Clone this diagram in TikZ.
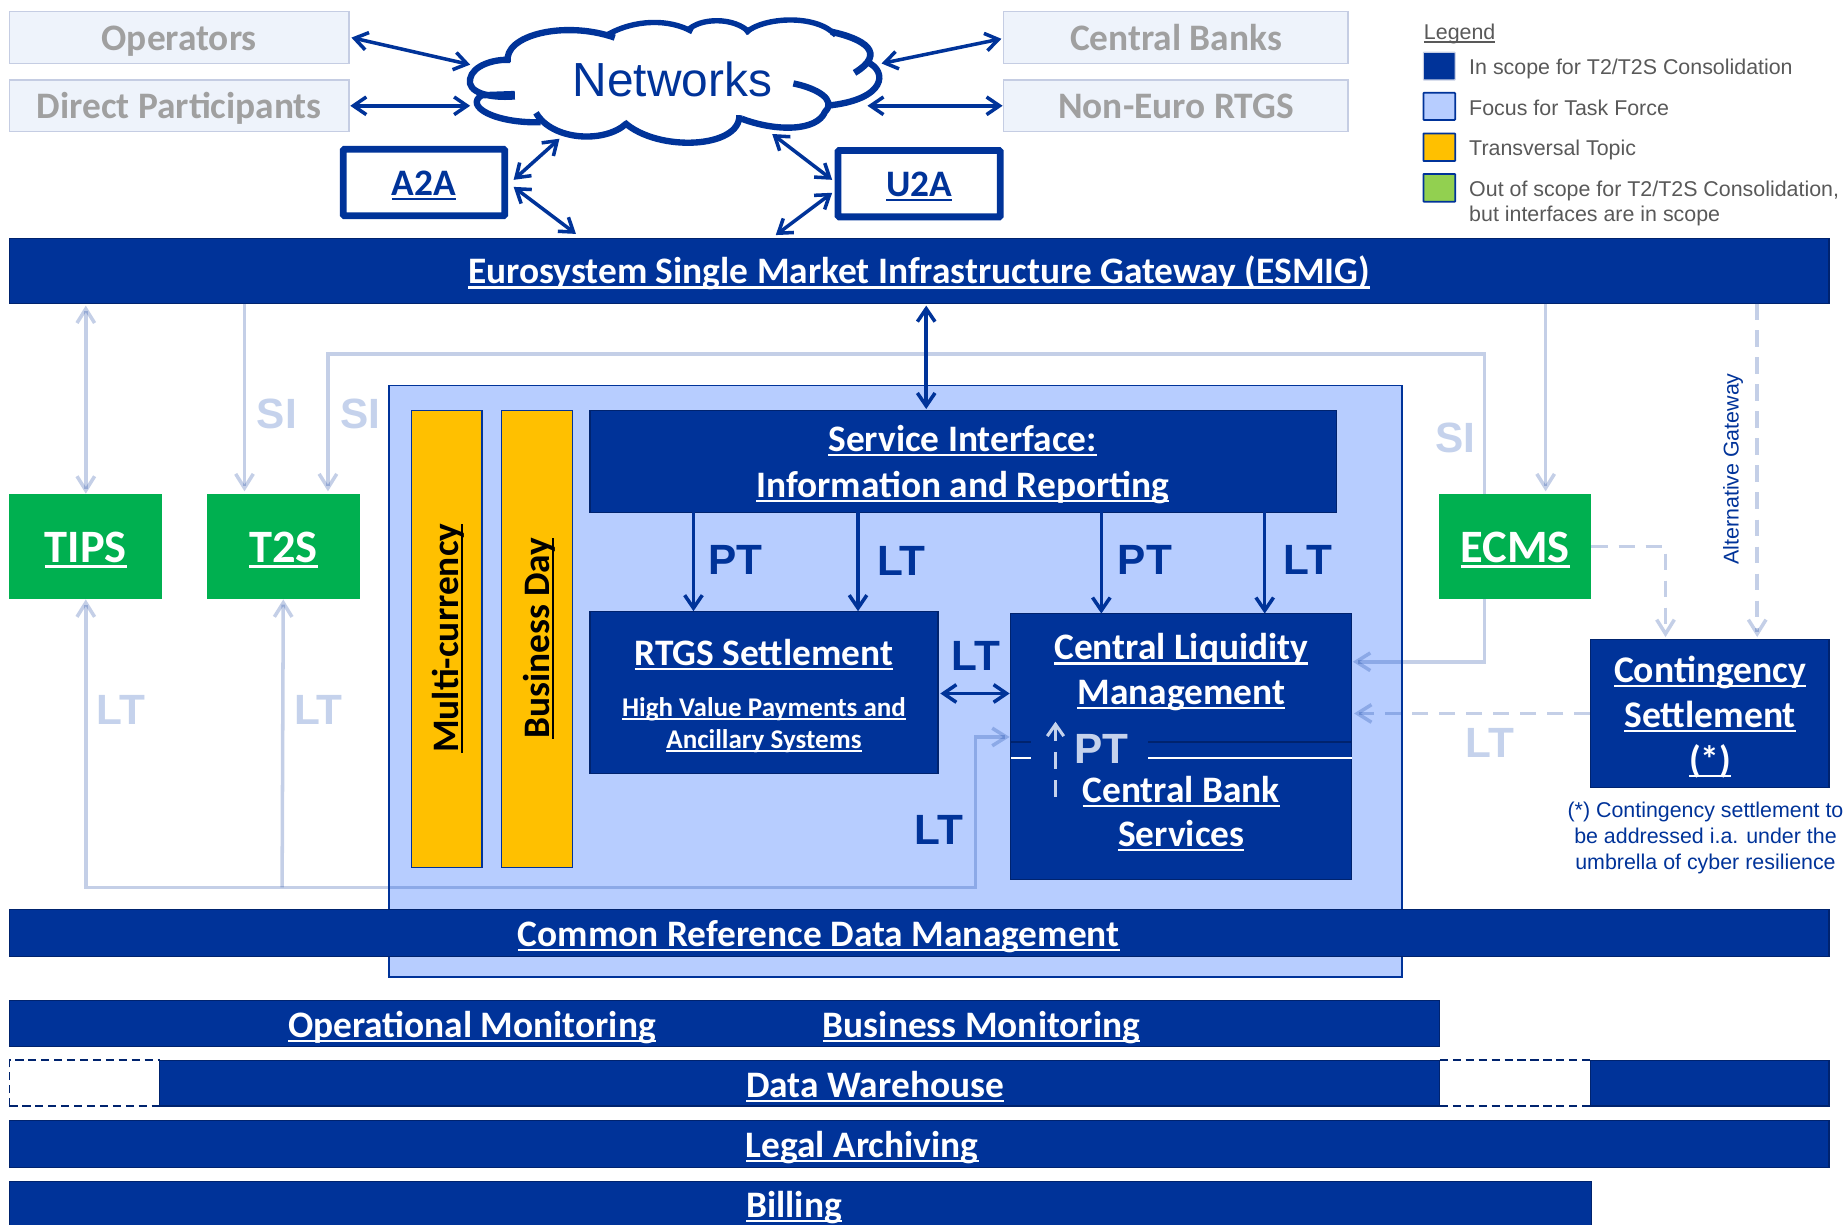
\documentclass[tikz,border=0pt]{standalone}
\usepackage{fontspec}
\setmainfont{Carlito}
\newfontfamily\arialf{Liberation Sans}
\usetikzlibrary{arrows.meta,calc}
\definecolor{ecb}{HTML}{003399}
\definecolor{ecbdark}{HTML}{00236E}
\definecolor{focus}{HTML}{B7CDFF}
\definecolor{palebox}{HTML}{EEF3FB}
\definecolor{paleline}{HTML}{C5CDE3}
\definecolor{paletext}{HTML}{C5D2EC}
\definecolor{greyt}{HTML}{A0A0A0}
\definecolor{legt}{HTML}{595959}
\definecolor{amberc}{HTML}{FFC000}
\definecolor{greenb}{HTML}{00B050}
\definecolor{greenl}{HTML}{92D050}
\newcommand\fs[2]{\fontsize{#1}{#2}\selectfont}
\newcommand\ulx[1]{\setbox0=\hbox{#1}\leavevmode\rlap{\vrule width\wd0 height -.065em depth .125em}\box0}
% \rbox[style]{name}{x1}{y1}{x2}{y2}{text}
\newcommand\rbox[7][]{\node[#1,minimum width={(#5-#3)*1pt},minimum height={(#6-#4)*1pt}] (#2) at ({(#3+#5)/2},{(#4+#6)/2}) {#7};}
\tikzset{
  cell/.style={inner sep=0pt,outer sep=0pt,align=center},
  oneline/.style={text height=22pt,text depth=0pt},
  paleb/.style={cell,oneline,fill=palebox,draw=paleline,line width=1.2pt,text=greyt,font=\bfseries\fs{31.8}{36}},
  frameb/.style={cell,oneline,draw=ecb,fill=white,line width=5.8pt,rounded corners=1pt,text=ecb,font=\bfseries\fs{31.8}{36}},
  bar/.style={cell,oneline,fill=ecb,draw=ecbdark,line width=1pt,text=white,font=\bfseries\fs{31.8}{36}},
  darkb/.style={cell,fill=ecb,draw=ecbdark,line width=1pt},
  boxtext/.style={cell,text=white,font=\bfseries\fs{31.8}{38.5}},
  greenbox/.style={cell,text height=27pt,text depth=0pt,fill=greenb,text=white,font=\bfseries\fs{39.5}{44}},
  amberbox/.style={cell,fill=amberc,draw=ecb,line width=1pt},
  bartext/.style={cell,text=white,font=\bfseries\fs{31.8}{36},anchor=base},
  amtext/.style={cell,text=black,font=\bfseries\fs{31.8}{36},rotate=90},
  tagdark/.style={cell,text=ecb,font=\arialf\bfseries\fs{36}{40}},
  tagpale/.style={cell,text=paletext,font=\arialf\bfseries\fs{36}{40}},
  leg/.style={cell,anchor=base west,align=left,text=legt,font=\arialf\fs{18.2}{21.3}},
  swatch/.style={cell,draw=ecb,line width=1.5pt,rounded corners=.5pt},
  link/.style={draw=ecb,line width=3pt},
  both/.style={link,{Straight Barb[length=11pt,width=15pt]}-{Straight Barb[length=11pt,width=15pt]}},
  onew/.style={link,-{Straight Barb[length=11pt,width=15pt]}},
  ghost/.style={draw=ecb,draw opacity=.23,line width=3pt,line join=miter},
  ghostone/.style={ghost,-{Straight Barb[length=12pt,width=15pt]}},
  ghostboth/.style={ghost,{Straight Barb[length=12pt,width=15pt]}-{Straight Barb[length=12pt,width=15pt]}},
  ghostdash/.style={ghostone,dash pattern=on 14pt off 9pt},
}
\begin{document}
\begin{tikzpicture}[x=1pt,y=-1pt]
\useasboundingbox (0,0) rectangle (1568,1042.2);
\fill[white] (0,0) rectangle (1568,1042.2);

% focus area
\rbox[cell,fill=focus,draw=ecb,line width=1.5pt]{focusarea}{331}{328}{1193}{831}{}

% top boxes
\rbox[paleb]{operators}{8}{10}{297}{54}{Operators}
\rbox[paleb]{direct}{8}{68}{297}{112}{Direct Participants}
\rbox[paleb]{central}{854}{10}{1147}{54}{Central Banks}
\rbox[paleb]{noneuro}{854}{68}{1147}{112}{Non-Euro RTGS}
\rbox[frameb]{atoa}{292}{127}{429.5}{183.5}{\ulx{A2A}}
\rbox[frameb]{utoa}{713}{128}{851}{184.5}{\ulx{U2A}}

% cloud
\fill[white] (437,84) .. controls (415,84) and (397,78) .. (400,67) .. controls (402,56) and (420,50) .. (432,53)
  .. controls (428,30) and (480,17) .. (522,31) .. controls (540,16) and (570,16) .. (587,25)
  .. controls (595,15) and (625,14) .. (637,27) .. controls (650,14) and (695,12) .. (711,29)
  .. controls (735,33) and (755,50) .. (739,54) .. controls (755,60) and (755,85) .. (703,90)
  .. controls (705,100) and (670,115) .. (631,100) .. controls (630,125) and (560,130) .. (531,106)
  .. controls (515,122) and (470,120) .. (457,97) .. controls (420,105) and (395,90) .. (410,80) -- cycle;
\draw[ecb,line width=5.4pt,line cap=butt]
  (438,82) .. controls (415,84) and (397,78) .. (400,67) .. controls (402,56) and (420,50) .. (434,51);
\draw[ecb,line width=5.4pt]
  (432,53) .. controls (428,30) and (480,17) .. (523,32);
\draw[ecb,line width=4.6pt]
  (516,30) .. controls (540,16) and (570,16) .. (589,27);
\draw[ecb,line width=4.6pt]
  (585,26) .. controls (595,15) and (625,14) .. (638,28);
\draw[ecb,line width=4.6pt]
  (634,28) .. controls (650,14) and (695,12) .. (711,30);
\draw[ecb,line width=5.6pt]
  (707,27) .. controls (735,33) and (755,45) .. (727,62);
\draw[ecb,line width=5.4pt]
  (738,53) .. controls (755,60) and (755,85) .. (703,90);
\draw[ecb,line width=5.4pt]
  (675,71) .. controls (695,75) and (712,85) .. (702,95) .. controls (695,112) and (660,112) .. (631,101);
\draw[ecb,line width=5.4pt]
  (629,98) .. controls (630,126) and (560,130) .. (531,104);
\draw[ecb,line width=5.4pt]
  (533,105) .. controls (515,122) and (470,120) .. (456,96);
\draw[ecb,line width=5.4pt]
  (460,104) .. controls (420,105) and (395,90) .. (410,81) -- (438,80);
\node[cell,text=ecb,font=\arialf\fs{40.7}{44}] (networks) at (572,67.5) {Networks};
\coordinate (netOp) at (400,55);
\coordinate (netDp) at (400,90);
\coordinate (netCb) at (750,54);
\coordinate (netNe) at (738,90);
\coordinate (netA) at (476,118);
\coordinate (netU) at (657,114);

% ESMIG
\rbox[bar]{esmig}{8}{203}{1556}{258}{\ulx{Eurosystem Single Market Infrastructure Gateway (ESMIG)}}

% amber columns
\rbox[amberbox]{multi}{350}{349}{410}{738}{}
\rbox[amberbox]{bday}{427}{349}{487}{738}{}
\node[amtext] (multit) at (381.5,543) {\ulx{Multi-currency}};
\node[amtext] (bdayt) at (458.5,543) {\ulx{Business Day}};

% inner boxes
\rbox[darkb]{service}{502}{349}{1137}{436}{}
\node[boxtext,font=\bfseries\fs{31.8}{39}] (servicet) at (819,395) {\ulx{Service Interface:}\\\ulx{Information and Reporting}};
\rbox[darkb]{rtgs}{502}{520}{798}{658}{}
\node[boxtext] (rtgsa) at (650,557) {\ulx{RTGS Settlement}};
\node[cell,text=white,font=\bfseries\fs{23}{27}] (rtgsb) at (650,617) {\ulx{High Value Payments and}\\\ulx{Ancillary Systems}};
\rbox[darkb]{clm}{860}{522}{1150}{748}{}
\draw[ecbdark,line width=1.5pt] (clm.west |- 0,631) -- (877,631) (977,631) -- (clm.east |- 0,631);
\draw[white,line width=1.5pt] (clm.west |- 0,645) -- (877,645) (977,645) -- (clm.east |- 0,645);
\node[boxtext,font=\bfseries\fs{31.8}{38}] (clma) at (1005,572) {\ulx{Central Liquidity}\\\ulx{Management}};
\node[boxtext,font=\bfseries\fs{31.8}{37.5}] (clmb) at (1005,692) {\ulx{Central Bank}\\\ulx{Services}};
\node[tagpale] (ptpale) at (937,637) {PT};
\coordinate (ptfoot) at (898,678);
\coordinate (pthead) at (898,614);
\draw[draw=paletext,line width=2.6pt,dash pattern=on 14pt off 10pt,-{Straight Barb[length=10pt,width=14pt]}] (ptfoot) -- (pthead);

% green boxes
\rbox[greenbox]{tips}{8}{420}{138}{510}{\ulx{TIPS}}
\rbox[greenbox]{ttos}{176}{420}{306}{510}{\ulx{T2S}}
\rbox[greenbox]{ecms}{1224}{420}{1354}{510}{\ulx{ECMS}}

% contingency
\rbox[darkb]{cont}{1353}{544}{1556}{670}{}
\node[boxtext,font=\bfseries\fs{32}{38.3}] (contt) at (1455,610) {\ulx{Contingency}\\\ulx{Settlement}\\\ulx{(*)}};
\node[cell,text=ecb,font=\arialf\fs{18.2}{22}] (contnote) at (1451,713) {(*) Contingency settlement to\\be addressed i.a. under the\\umbrella of cyber resilience};
\node[cell,text=ecb,font=\arialf\fs{18.2}{20},rotate=90] (altg) at (1474.5,399) {Alternative Gateway};

% lower bars
\rbox[bar]{crdm}{8}{774}{1556}{814}{}
\node[bartext] (crdmt) at (696.5,805.5) {\ulx{Common Reference Data Management}};
\rbox[bar]{opmon}{8}{851}{1225}{890}{}
\node[bartext] (opmont) at (401.5,882.5) {\ulx{Operational Monitoring}};
\node[bartext] (busmont) at (835,882.5) {\ulx{Business Monitoring}};
\draw[ecbdark,line width=1.5pt,dash pattern=on 7pt off 4pt]
  (8,941) -- (8,902) -- (136,902) (8,941) -- (136,941)
  (1225,902) -- (1353,902) (1225,941) -- (1353,941);
\rbox[bar]{dwh}{136}{902}{1225}{941}{}
\rbox[bar]{dwhr}{1353}{902}{1556}{941}{}
\node[bartext] (dwht) at (744.5,933.5) {\ulx{Data Warehouse}};
\rbox[bar]{legal}{8}{953.5}{1556}{993}{}
\node[bartext] (legalt) at (733.5,984.5) {\ulx{Legal Archiving}};
\rbox[bar]{billing}{8}{1005}{1354}{1045}{}
\node[bartext] (billingt) at (675.5,1036) {\ulx{Billing}};

% tags
\node[tagdark] (pt1) at (626,476) {PT};
\node[tagdark] (lt1) at (767,477) {LT};
\node[tagdark] (pt2) at (974,476) {PT};
\node[tagdark] (lt2) at (1113,476) {LT};
\node[tagdark] (lt3) at (830,558) {LT};
\node[tagdark] (lt4) at (799,706) {LT};
\node[tagpale] (si1) at (235.5,352) {SI};
\node[tagpale] (si2) at (306.5,352) {SI};
\node[tagpale] (si3) at (1238.5,373) {SI};
\node[tagpale] (lt5) at (103,604) {LT};
\node[tagpale] (lt6) at (271,604) {LT};
\node[tagpale] (lt7) at (1267.5,632) {LT};

% ports
\coordinate (opR) at (299,32);
\coordinate (cbL) at (852,33);
\coordinate (aTop) at (437,153);
\coordinate (aBot) at (437,159);
\coordinate (esA) at (490,199);
\coordinate (uTop) at (708,153);
\coordinate (uBot) at (708,164);
\coordinate (esU) at (660,200);
\coordinate (e1) at (73,260);
\coordinate (e2) at (208,258);
\coordinate (t2) at (208,418);
\coordinate (siT) at (279,418);
\coordinate (siC1) at (279,301);
\coordinate (siC2) at (1263,301);
\coordinate (siE) at (1263,420);
\coordinate (siF) at (1263,510);
\coordinate (siC3) at (1263,563);
\coordinate (clmSI) at (1151,563);
\coordinate (e3) at (1315,258);
\coordinate (ecTop) at (1315,418);
\coordinate (ecR) at (1354,465);
\coordinate (ecC) at (1417,465);
\coordinate (ctA) at (1417,542);
\coordinate (e4) at (1495,258);
\coordinate (ctB) at (1495,542);
\coordinate (ctL) at (1353,607);
\coordinate (clmCt) at (1152,607);
\coordinate (ltA) at (73,755);
\coordinate (ltB) at (240,755);
\coordinate (ltC) at (830,755);
\coordinate (ltD) at (830,627);
\coordinate (clmLT) at (859,627);
\coordinate (e5) at (788,260);
\coordinate (sv5) at (788,348);
\coordinate (sv1) at (590,436);
\coordinate (rt1) at (590,520);
\coordinate (sv2) at (730,436);
\coordinate (rt2) at (730,520);
\coordinate (sv3) at (937,436);
\coordinate (cl3) at (937,522);
\coordinate (sv4) at (1076,436);
\coordinate (cl4) at (1076,522);
\coordinate (rtR) at (800,590);
\coordinate (clL) at (859,590);

% dark links
\draw[both] (opR) -- (netOp);
\draw[both] (direct.east) ++(1,0) coordinate (dpR) (dpR |- netDp) -- (netDp);
\draw[both] (cbL) -- (netCb);
\draw[both] (noneuro.west) ++(-1,0) coordinate (neL) (neL |- netNe) -- (netNe);
\draw[both] (netA) -- (aTop);
\draw[both] (aBot) -- (esA);
\draw[both] (netU) -- (uTop);
\draw[both] (uBot) -- (esU);
\draw[both] (e5) -- (sv5);
\draw[onew] (sv1) -- (rt1);
\draw[onew] (sv2) -- (rt2);
\draw[onew] (sv3) -- (cl3);
\draw[onew] (sv4) -- (cl4);
\draw[both] (rtR) -- (clL);

% pale links
\draw[ghostboth] (e1) -- (tips.north);
\draw[ghostone] (e2) -- (t2);
\draw[ghostone] (siE) -- (siC2) -- (siC1) -- (siT);
\draw[ghostone] (siF) -- (siC3) -- (clmSI);
\draw[ghostone] (e3) -- (ecTop);
\draw[ghostdash] (ecR) -- (ecC) -- (ctA);
\draw[ghostdash] (e4) -- (ctB);
\draw[ghostdash] (ctL) -- (clmCt);
\draw[ghostone] (ltB) -- (ltA) -- (tips.south);
\draw[ghostone] (ltB) -- (ttos.south);
\draw[ghostone] (ltB) -- (ltC) -- (ltD) -- (clmLT);

% legend
\node[leg] (legt) at (1211.5,34) {\ulx{Legend}};
\rbox[swatch,fill=ecb,draw=paleline,line width=1pt]{s1}{1211}{44.5}{1238}{68}{}
\rbox[swatch,fill=focus]{s2}{1211}{79}{1238}{102}{}
\rbox[swatch,fill=amberc]{s3}{1211}{113.5}{1238}{137}{}
\rbox[swatch,fill=greenl]{s4}{1211}{148}{1238}{171.6}{}
\node[leg] (l1) at (1250,63) {In scope for T2/T2S Consolidation};
\node[leg] (l2) at (1250,98) {Focus for Task Force};
\node[leg] (l3) at (1250,132) {Transversal Topic};
\node[leg,anchor=north west] (l4) at (1250,154) {Out of scope for T2/T2S Consolidation,\\but interfaces are in scope};
\end{tikzpicture}
\end{document}
